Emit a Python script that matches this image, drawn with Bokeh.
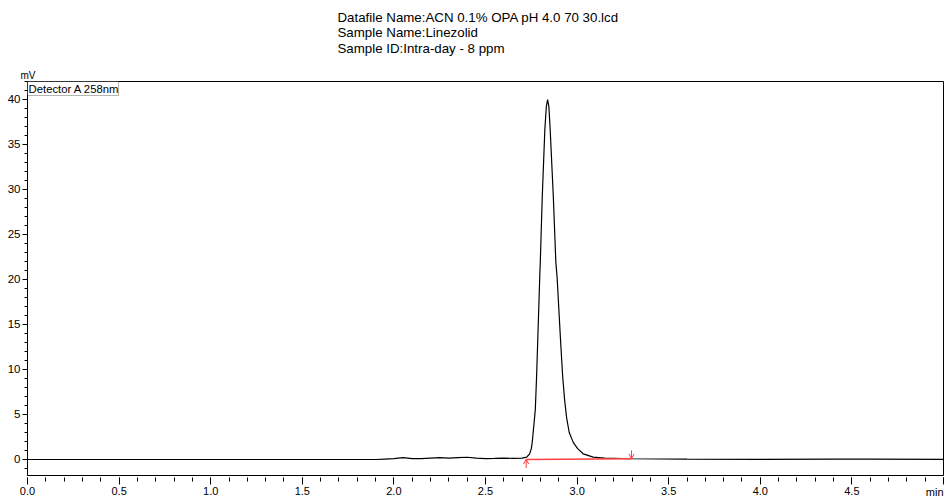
from bokeh.plotting import figure
from bokeh.models import Range1d, FixedTicker, Label, BoxAnnotation, Arrow, OpenHead
from bokeh.embed import file_html
from bokeh.resources import INLINE

# Chromatogram signal (time in min, signal in mV)
time_min = [0.0, 0.5, 1.0, 1.5, 1.9, 1.95, 2.0, 2.05, 2.1, 2.15, 2.2, 2.25, 2.3, 2.35,
            2.4, 2.45, 2.5, 2.55, 2.6, 2.65, 2.70, 2.725, 2.741, 2.750, 2.755, 2.764,
            2.772, 2.779, 2.785, 2.796, 2.799, 2.810, 2.824, 2.832, 2.839, 2.846,
            2.853, 2.870, 2.884, 2.891, 2.910, 2.921, 2.932, 2.943, 2.957, 2.979, 3.003,
            3.033, 3.088, 3.15, 3.3, 3.6, 4.0, 4.4, 4.6, 5.0]
signal_mv = [0.0, 0.0, 0.0, 0.0, 0.0, 0.05, 0.1, 0.2, 0.1, 0.1, 0.15, 0.2, 0.15, 0.2,
             0.25, 0.15, 0.1, 0.12, 0.15, 0.12, 0.15, 0.26, 0.63, 1.2, 1.9, 3.8,
             5.6, 9.3, 13.1, 20.2, 21.9, 29.3, 36.7, 39.2, 40.0, 39.2,
             36.7, 29.3, 21.9, 20.2, 13.1, 9.3, 6.6, 4.6, 3.0, 1.9, 1.2,
             0.63, 0.26, 0.15, 0.08, 0.03, 0.02, 0.05, 0.05, 0.02]

# Integration baseline of the peak
base_time = [2.722, 3.297]
base_mv = [0.0, 0.07]

x_ticks = [0.0, 0.5, 1.0, 1.5, 2.0, 2.5, 3.0, 3.5, 4.0, 4.5, 5.0]
x_labels = ["0.0", "0.5", "1.0", "1.5", "2.0", "2.5", "3.0", "3.5", "4.0", "4.5", ""]
y_ticks = [0, 5, 10, 15, 20, 25, 30, 35, 40]

title_lines = ["Datafile Name:ACN 0.1% OPA pH 4.0 70 30.lcd",
               "Sample Name:Linezolid",
               "Sample ID:Intra-day - 8 ppm"]

FONT = "Liberation Sans"
RED = "#ff4040"

p = figure(width=946, height=498, output_backend="svg", toolbar_location=None,
           x_range=Range1d(0, 5), y_range=Range1d(-1.78, 42.0),
           min_border_left=27, min_border_right=3, min_border_top=81, min_border_bottom=23)
p.grid.visible = False
p.outline_line_color = "black"
p.outline_line_width = 1
p.background_fill_color = "white"
p.border_fill_color = "white"

# x axis
xa = p.xaxis[0]
xa.ticker = FixedTicker(ticks=x_ticks, minor_ticks=[i / 10 for i in range(0, 51)])
xa.major_label_overrides = {t: l for t, l in zip(x_ticks, x_labels)}
xa.axis_line_color = None
xa.major_tick_in = -2
xa.major_tick_out = 9
xa.minor_tick_in = -2
xa.minor_tick_out = 6
xa.major_tick_line_color = "black"
xa.minor_tick_line_color = "black"
xa.major_label_standoff = 2
xa.major_label_text_font = FONT
xa.major_label_text_font_size = "11px"
xa.major_label_text_color = "black"

# y axis
ya = p.yaxis[0]
ya.ticker = FixedTicker(ticks=y_ticks, minor_ticks=list(range(-1, 43)))
ya.axis_line_color = "black"
ya.major_tick_in = 0
ya.major_tick_out = 5
ya.minor_tick_in = 0
ya.minor_tick_out = 3
ya.major_tick_line_color = "black"
ya.minor_tick_line_color = "black"
ya.major_label_standoff = 2
ya.major_label_text_font = FONT
ya.major_label_text_font_size = "11.5px"
ya.major_label_text_color = "black"

# signal
p.line(time_min, signal_mv, line_color="black", line_width=1.2)

# integration baseline and markers
p.line(base_time, base_mv, line_color=RED, line_width=1.5)
p.add_layout(Arrow(end=OpenHead(size=5, line_color=RED, line_width=1),
                   x_start=base_time[0], y_start=-0.95, x_end=base_time[0], y_end=base_mv[0] + 0.05,
                   line_color=RED, line_width=1))
p.add_layout(Arrow(end=OpenHead(size=5, line_color=RED, line_width=1),
                   x_start=base_time[1], y_start=1.0, x_end=base_time[1], y_end=base_mv[1],
                   line_color=RED, line_width=1))

# detector box
p.add_layout(BoxAnnotation(left=0, right=0.497, top=42.0, bottom=40.44,
                           fill_color="white", fill_alpha=1, line_color="black", line_width=1))
p.add_layout(Label(x=0.006, y=41.2, text="Detector A 258nm", text_font=FONT,
                   text_font_size="11.3px", text_baseline="middle", text_align="left",
                   text_color="black"))

# Labels outside the frame live in "above" side panels, stacked upward from the frame top (y=81).
# Coordinates are relative to each panel's bottom-left (panel left = frame left = 27).
FL, FT = 27, 81
TITLE_FS = 13.3
H_TITLE = 15.1    # measured panel height of a 13.3px label
H_MIN = 12.7      # measured panel height of an 11px label
centers = [16.6, 32.3, 48.3]
bottom = FT
for i in (2, 1, 0):
    p.add_layout(Label(x=337 - FL, y=bottom - centers[i], x_units="screen", y_units="screen",
                       text=title_lines[i], text_font=FONT, text_font_size=f"{TITLE_FS}px",
                       text_baseline="middle", text_align="left", text_color="black"), "above")
    bottom -= H_TITLE
p.add_layout(Label(x=943 - FL, y=bottom - 491.0, x_units="screen", y_units="screen", text="min",
                   text_font=FONT, text_font_size="11px", text_baseline="middle",
                   text_align="right", text_color="black"), "above")
bottom -= H_MIN
p.add_layout(Label(x=20 - FL, y=bottom - 74, x_units="screen", y_units="screen", text="mV",
                   text_font=FONT, text_font_size="10px", text_baseline="middle",
                   text_align="left", text_color="black"), "above")

open("out.html", "w").write(file_html(p, INLINE))
